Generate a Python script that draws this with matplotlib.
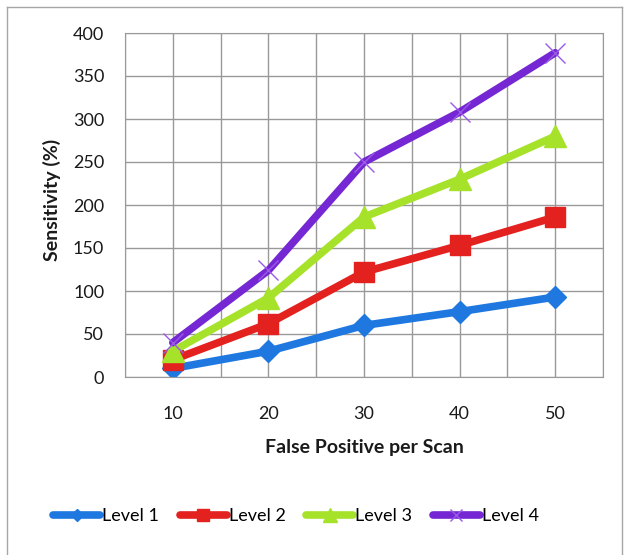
import matplotlib
matplotlib.use("Agg")
import matplotlib.pyplot as plt
from matplotlib.lines import Line2D

fp_per_scan = [10, 20, 30, 40, 50]
level1 = [10, 30, 60, 76, 93]
level2 = [20, 62, 122, 153, 186]
level3 = [30, 92, 186, 230, 280]
level4 = [40, 124, 250, 308, 377]
series_names = ["Level 1", "Level 2", "Level 3", "Level 4"]
y_ticks = [0, 50, 100, 150, 200, 250, 300, 350, 400]

plt.rcParams['font.family'] = ['Lato', 'DejaVu Sans']

W, H = 624, 555
fig = plt.figure(figsize=(W / 100, H / 100), dpi=100)
ax = fig.add_axes([125 / W, 1 - 377 / H, (603 - 125) / W, (377 - 33) / H])

# chart-area border
fig.add_artist(Line2D([7 / W, 622 / W], [1 - 7 / H, 1 - 7 / H], transform=fig.transFigure, color='#a6a6a6', lw=1))
fig.add_artist(Line2D([7 / W, 7 / W], [1 - 7 / H, 0], transform=fig.transFigure, color='#a6a6a6', lw=1))
fig.add_artist(Line2D([622 / W, 622 / W], [1 - 7 / H, 0], transform=fig.transFigure, color='#a6a6a6', lw=1))

styles = [
    dict(color='#1e78e0', marker='D', ms=11, mec='#1e78e0'),
    dict(color='#e3211f', marker='s', ms=14, mec='#e3211f'),
    dict(color='#a6e22a', marker='^', ms=16, mec='#a6e22a'),
    dict(color='#7427d3', marker='x', ms=15, mew=1, mec='#9a5ae6'),
]
data = [level1, level2, level3, level4]
handles = []
for name, vals, st in zip(series_names, data, styles):
    h, = ax.plot(fp_per_scan, vals, lw=5.5, solid_capstyle='round', solid_joinstyle='round',
                 label=name, **st)
    handles.append(h)

ax.set_xlim(5, 55)
ax.set_ylim(0, 400)
ax.set_xticks(fp_per_scan)
ax.set_xticks([5, 15, 25, 35, 45, 55], minor=True)
ax.set_yticks(y_ticks)
ax.grid(True, which='both', color='#999999', lw=1)
ax.set_axisbelow(True)
for s in ax.spines.values():
    s.set_color('#999999')
ax.tick_params(which='both', length=0, labelsize=13, colors='#1a1a1a')
ax.tick_params(axis='x', pad=21)
ax.tick_params(axis='y', pad=15)

ax.set_xlabel('False Positive per Scan', fontsize=14, fontweight='bold', labelpad=12, color='#1a1a1a')
fig.text(52 / W, 1 - 200 / H, 'Sensitivity (%)', rotation=90, fontsize=14, fontweight='bold',
         ha='center', va='center', color='#1a1a1a')

leg = fig.legend(handles=handles, labels=series_names, loc='center', bbox_to_anchor=(296 / W, 1 - 516 / H),
                 ncol=4, frameon=False, fontsize=13, handlelength=2.6, handletextpad=0.1,
                 columnspacing=1.15, markerscale=0.6, borderpad=0)

fig.savefig('out.png', dpi=100)
